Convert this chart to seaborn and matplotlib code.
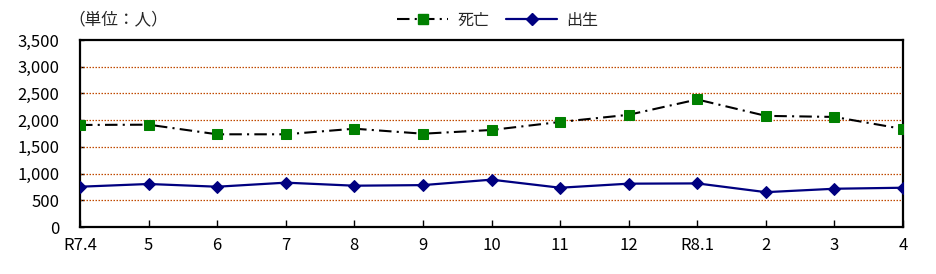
import numpy as np
import pandas as pd
import matplotlib
matplotlib.use("Agg")
import matplotlib.pyplot as plt
import seaborn as sns
from matplotlib.lines import Line2D

months = ["R7.4", "5", "6", "7", "8", "9", "10", "11", "12", "R8.1", "2", "3", "4"]
deaths = [1910, 1915, 1735, 1735, 1840, 1746, 1816, 1966, 2100, 2387, 2080, 2060, 1834]
births = [754, 805, 754, 830, 773, 784, 886, 735, 811, 816, 652, 716, 735]
yticks = [0, 500, 1000, 1500, 2000, 2500, 3000, 3500]

sns.set_theme(style="white")
plt.rcParams["font.family"] = ["Noto Sans CJK JP", "DejaVu Sans"]

fig = plt.figure(figsize=(9.36, 2.74), dpi=100)
ax = fig.add_axes([80 / 936, 47 / 274, 823 / 936, 187 / 274])

pos = np.arange(len(months))
df = pd.DataFrame({"pos": pos, "death": deaths, "birth": births})

sns.lineplot(data=df, x="pos", y="death", ax=ax, color="black", linewidth=1.5,
             marker="s", markersize=7, markerfacecolor="#008000",
             markeredgecolor="#008000", dashes=False, zorder=3)
ax.lines[-1].set_dashes((6, 2.5, 1, 2.5))
sns.lineplot(data=df, x="pos", y="birth", ax=ax, color="#000080", linewidth=1.6,
             marker="D", markersize=6, markerfacecolor="#000080",
             markeredgecolor="#000080", zorder=3)

ax.set_xlim(0, len(months) - 1)
ax.set_ylim(0, 3500)
ax.set_yticks(yticks)
ax.set_yticklabels([f"{v:,}" for v in yticks], fontsize=12)
ax.set_xticks(pos)
ax.set_xticklabels(months, fontsize=12)
ax.set_xlabel("")
ax.set_ylabel("")

for v in yticks[1:-1]:
    ax.axhline(v, color="#C04A00", linestyle=(0, (1.2, 1.2)), linewidth=0.9, zorder=1)

for s in ax.spines.values():
    s.set_visible(True)
    s.set_color("black")
    s.set_linewidth(1.6)

ax.tick_params(axis="x", direction="in", length=5, width=1, color="black", pad=7, labelcolor="black")
ax.tick_params(axis="y", direction="in", length=3, width=1, color="black", pad=15, labelcolor="black")
ax.tick_params(bottom=True, left=True)

fig.text(68 / 936, 1 - 20 / 274, "（単位：人）", fontsize=12, va="center", ha="left")

h1 = Line2D([], [], color="black", linewidth=1.5, marker="s", markersize=7,
            markerfacecolor="#008000", markeredgecolor="#008000")
h1.set_dashes((6, 2.5, 1, 2.5))
h2 = Line2D([], [], color="#000080", linewidth=1.6, marker="D", markersize=6)
fig.legend([h1, h2], ["死亡", "出生"], loc="center", bbox_to_anchor=(498 / 936, 1 - 20 / 274),
           ncol=2, frameon=False, fontsize=11.5, handlelength=3.2, columnspacing=1.0,
           handletextpad=0.6)

fig.savefig("out.png", dpi=100)
